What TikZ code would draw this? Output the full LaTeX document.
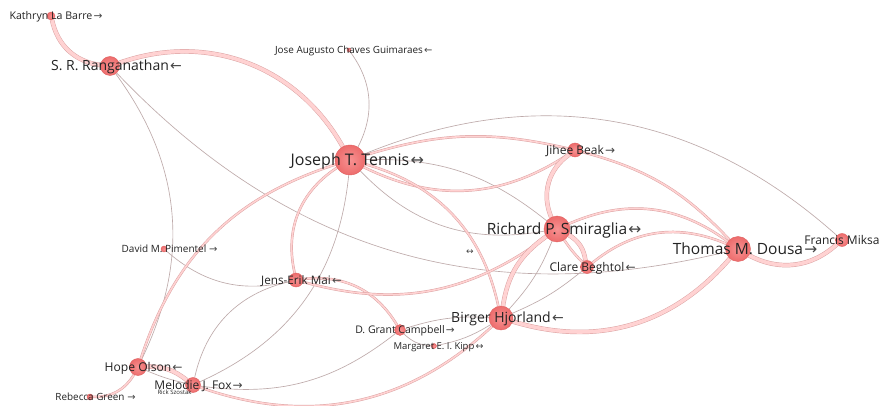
\documentclass[tikz,border=0pt]{standalone}
\usepackage{fontspec}
\setmainfont{Open Sans}
\newfontfamily\arrowfont{DejaVu Sans}
\usetikzlibrary{calc}
\definecolor{txt}{RGB}{35,35,35}
\definecolor{arrowc}{RGB}{70,70,70}
\definecolor{nodefill}{RGB}{237,108,108}
\definecolor{nodelight}{RGB}{247,146,146}
\definecolor{nodeedge}{RGB}{224,96,96}
\definecolor{grayedge}{RGB}{190,170,170}
\definecolor{pinkout}{RGB}{218,160,160}
\definecolor{pinkin}{RGB}{255,210,210}
\pgfdeclarelayer{background}
\pgfsetlayers{background,main}
\newcommand{\authvertex}[4]{\node[vert, minimum size={2*#4}] (#1) at (#2,#3) {};}
\newcommand{\authlabel}[4]{%
  \node[lbl, font=\fontsize{#2}{#2}\selectfont, anchor=base, yshift={-0.357*#2}] (#1-t) at (#1.center) {#3};
  \node[arlbl, font=\arrowfont\fontsize{#2}{#2}\selectfont, anchor=base west] (#1-a) at (#1-t.base east) {#4};
}
\tikzset{
  vert/.style={circle, inner sep=0pt, draw=nodeedge, line width=0.4pt, inner color=nodelight, outer color=nodefill},
  lbl/.style={text=txt, inner sep=0pt},
  arlbl/.style={text=arrowc, inner sep=0.8pt},
  gedge/.style={draw=grayedge, line width=0.65pt},
  pedge/.style={draw=pinkout, line width=0.45pt, double=pinkin, double distance=1.6pt},
  bigpedge/.style={draw=pinkout, line width=0.45pt, double=pinkin, double distance=3.6pt}
}
\begin{document}
\begin{tikzpicture}[x=1pt, y=-1pt]
\useasboundingbox (0,0) rectangle (881,406);
\begin{pgfonlayer}{background}
\fill[white] (0,0) rectangle (881,406);
\end{pgfonlayer}
% vertices
\authvertex{kat}{51}{16}{4}
\authvertex{ran}{110}{66}{9.5}
\authvertex{jose}{349}{50}{2}
\authvertex{ten}{350}{160}{15}
\authvertex{jih}{575}{150}{7}
\authvertex{smi}{557}{229}{13}
\authvertex{dou}{738}{249}{12.5}
\authvertex{mik}{842}{240}{6.5}
\authvertex{cla}{587}{267}{6.5}
\authvertex{bir}{501}{318}{12}
\authvertex{cam}{400}{330}{5.5}
\authvertex{kip}{434}{346}{2.5}
\authvertex{mai}{296}{280}{7}
\authvertex{pim}{164}{249}{3}
\authvertex{hop}{138}{367}{8.5}
\authvertex{mel}{193}{385}{7.5}
\authvertex{reb}{90}{397}{3}
% edges
\begin{pgfonlayer}{background}
\draw[gedge] (ran) to[bend right=30] (dou);
\draw[gedge] (ran) to[bend left=31] (hop);
\draw[gedge] (jose) to[bend left=32] (ten);
\draw[gedge] (ten) to[bend left=32] (mik);
\draw[gedge] (ten) to[bend left=20] (smi);
\draw[gedge] (ten) to[bend right=28] (smi);
\draw[gedge] (ten) to[bend left=30] (mel);
\draw[gedge] (cla) to[bend left=8] (bir);
\draw[gedge] (pim) to[bend right=27] (mai);
\draw[gedge] (mai) to[bend right=32] (mel);
\draw[gedge] (mel) to[bend right=23] (cam);
\draw[gedge] (cam) to[bend left=10] (bir);
\draw[gedge] (kip) to[bend right=10] (bir);
\draw[gedge] (cam) to[bend right=20] (kip);
\draw[gedge] (hop) to[bend right=5] (mel);
\draw[gedge] (smi) to[bend left=10] (bir);
\draw[pedge] (ten) to[bend left=15] (jih);
\draw[pedge] (ten) to[bend right=30] (jih);
\draw[pedge] (jih) to[bend left=16] (dou);
\draw[pedge] (smi) to[bend left=30] (dou);
\draw[pedge] (cla) to[bend left=31] (dou);
\draw[pedge] (ten) to[bend left=31] (bir);
\draw[pedge] (ten) to[bend right=35] (mai);
\draw[pedge] (ten) to[bend right=27] (hop);
\draw[pedge] (mel) to[bend right=31] (bir);
\draw[pedge] (hop) to[bend left=30] (reb);
\draw[pedge] (mai) to[bend left=33] (cam);
\draw[pedge] (mai) to[bend right=26] (smi);
\draw[pedge] (smi) to[bend right=5] (cla);
\draw[bigpedge] (kat) to[bend right=35] (ran);
\draw[bigpedge] (ran) to[bend left=40] (ten);
\draw[bigpedge] (jih) to[bend right=39] (smi);
\draw[bigpedge] (smi) to[bend left=25] (cla);
\draw[bigpedge] (smi) to[bend right=23] (bir);
\draw[bigpedge] (dou) to[bend left=33] (bir);
\draw[bigpedge] (dou) to[bend right=35] (mik);
\draw[bigpedge] (hop) to[bend left=20] (mel);
\end{pgfonlayer}
% labels
\authlabel{kat}{10.6}{Kathryn La Barre}{→}
\authlabel{ran}{14}{S. R. Ranganathan}{←}
\authlabel{jose}{9.9}{Jose Augusto Chaves Guimaraes}{←}
\authlabel{ten}{16}{Joseph T. Tennis}{↔}
\authlabel{jih}{12}{Jihee Beak}{→}
\authlabel{smi}{15.5}{Richard P. Smiraglia}{↔}
\authlabel{dou}{15.5}{Thomas M. Dousa}{→}
\authlabel{mik}{12}{Francis Miksa}{}
\authlabel{cla}{12}{Clare Beghtol}{←}
\authlabel{bir}{14}{Birger Hjorland}{←}
\authlabel{cam}{10.5}{D. Grant Campbell}{→}
\authlabel{kip}{9.5}{Margaret E. I. Kipp}{↔}
\authlabel{mai}{11.7}{Jens-Erik Mai}{←}
\authlabel{pim}{10}{David M. Pimentel}{\,→}
\authlabel{hop}{12.1}{Hope Olson}{←}
\authlabel{mel}{12}{Melodie J. Fox}{→}
\authlabel{reb}{9.9}{Rebecca Green}{\,→}
\node[lbl, font=\fontsize{6}{6}\selectfont] (ric) at (174.5,392.5) {Rick Szostak};
\node[arlbl, font=\arrowfont\fontsize{9}{9}\selectfont] (anon) at (470,252) {↔};
\end{tikzpicture}
\end{document}
